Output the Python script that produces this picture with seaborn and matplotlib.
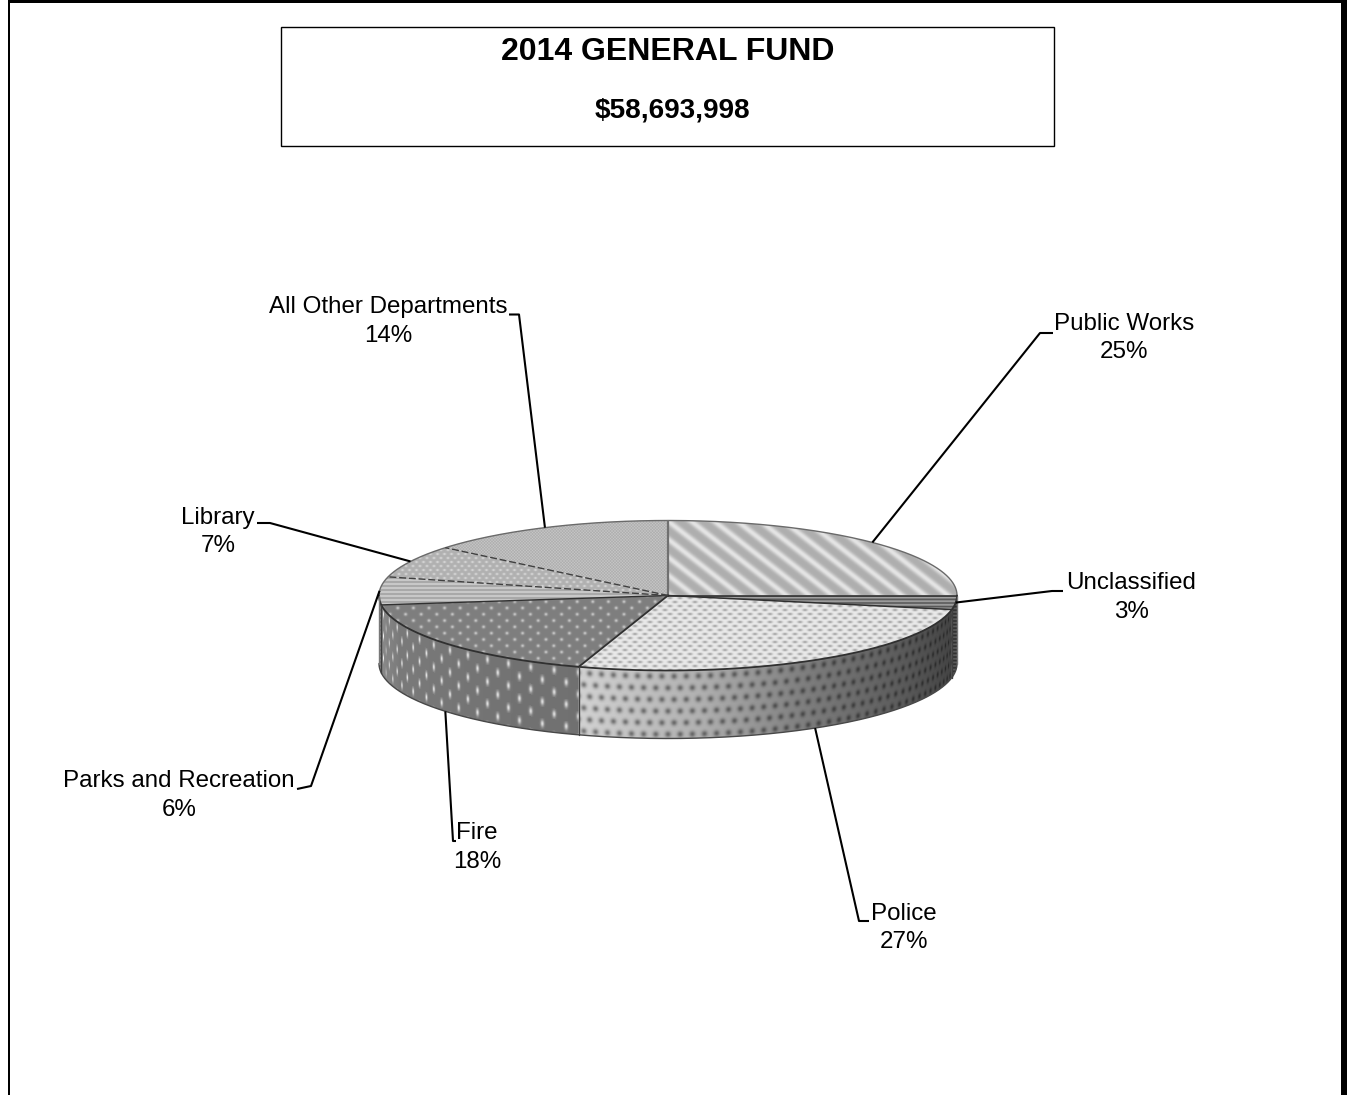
import numpy as np
import matplotlib
matplotlib.use("Agg")
import matplotlib.pyplot as plt
from matplotlib.path import Path
from matplotlib.patches import PathPatch, Rectangle
import seaborn as sns

# Budget shares, clockwise from twelve o'clock
departments = ["Public Works", "Unclassified", "Police", "Fire",
               "Parks and Recreation", "Library", "All Other Departments"]
shares = [25, 3, 27, 18, 6, 7, 14]
title_lines = ["2014 GENERAL FUND", "$58,693,998"]

sns.set_theme(style="white")
plt.rcParams["font.family"] = ["Liberation Sans", "DejaVu Sans"]

W, H = 1348, 1095
fig = plt.figure(figsize=(W / 100, H / 100), dpi=100)
ax = fig.add_axes([0, 0, 1, 1])
ax.set_axis_off()

# Pie geometry in canvas units
CX, CY, RX, RY, DEPTH = 668.0, 595.5, 289.0, 75.0, 68.0

X, Y = np.meshgrid(np.arange(W) + 0.5, np.arange(H) + 0.5)


def rim(theta_deg, drop=0.0):
    t = np.radians(theta_deg)
    return CX + RX * np.sin(t), CY - RY * np.cos(t) + drop


def spots(u, v, px, py, sx, sy):
    row = np.floor(v / py)
    shifted = u + (row % 2) * px / 2
    du = ((shifted / px) % 1 - 0.5) * px
    dv = ((v / py) % 1 - 0.5) * py
    return np.exp(-(du ** 2 / sx ** 2 + dv ** 2 / sy ** 2))


# Coordinates wrapped around the cylinder wall
U = RX * np.arcsin(np.clip((X - CX) / RX, -1, 1))
V = Y - (CY + RY * np.sqrt(np.clip(1 - ((X - CX) / RX) ** 2, 0, 1)))

police_wall = np.interp(X, [584, 700, 800, 900, 957], [208, 176, 128, 92, 66])
fire_wall = np.interp(X, [378, 400, 470, 584], [140, 122, 116, 112])

top_faces = [
    174 + 54 * np.clip(0.5 + 0.5 * np.cos(2 * np.pi * (Y - 0.78 * X) / 18.0), 0, 1) ** 2,
    90 + 70 * (0.5 + 0.5 * np.cos(2 * np.pi * Y / 3.6)),
    234 - 70 * spots(X, Y, 10.0, 4.0, 2.6, 1.3),
    126 + 70 * spots(X, Y, 15.6, 6.3, 1.7, 1.6),
    162 + 44 * (0.5 + 0.5 * np.cos(2 * np.pi * Y / 4.0)),
    176 + 40 * spots(X, Y, 7.0, 4.0, 1.5, 1.1),
    184 + 14 * np.cos(2 * np.pi * X / 3.0) * np.cos(2 * np.pi * Y / 3.0),
]
wall_faces = [
    48 + 44 * (0.5 + 0.5 * np.cos(2 * np.pi * Y / 3.6)),
    police_wall * (1 - 0.42 * spots(U, V, 12.2, 11.6, 3.0, 3.0)),
    fire_wall + 105 * spots(U, V, 26.0, 11.0, 2.0, 3.6),
    120 + 30 * (0.5 + 0.5 * np.cos(2 * np.pi * Y / 4.0)),
]

edges = np.cumsum([0] + shares) * 3.6
starts, stops = edges[:-1], edges[1:]


def textured(points, tex):
    patch = PathPatch(Path(np.column_stack(points)), fc="none", ec="none")
    ax.add_patch(patch)
    im = ax.imshow(tex, cmap="gray", vmin=0, vmax=255, extent=(0, W, H, 0),
                   aspect="auto", interpolation="bilinear", zorder=1)
    im.set_clip_path(patch)


# Outer wall, only the front half of the disc shows
wall_index = 0
for a, b in zip(starts, stops):
    lo, hi = max(a, 90), min(b, 270)
    if lo >= hi:
        continue
    arc = np.linspace(lo, hi, 200)
    x_top, y_top = rim(arc)
    x_bot, y_bot = rim(arc[::-1], DEPTH)
    textured((np.r_[x_top, x_bot], np.r_[y_top, y_bot]), wall_faces[wall_index])
    wall_index += 1

# Top surface wedges
for a, b, tex in zip(starts, stops, top_faces):
    arc = np.linspace(a, b, 240)
    x_arc, y_arc = rim(arc)
    textured((np.r_[CX, x_arc, CX], np.r_[CY, y_arc, CY]), tex)

# Outlines of the disc
arc = np.linspace(-90, 90, 361)
ax.plot(*rim(arc), color="#6a6a6a", lw=1.0, zorder=3)
arc = np.linspace(90, 270, 361)
ax.plot(*rim(arc), color="#303030", lw=1.3, zorder=3)
ax.plot(*rim(arc, DEPTH), color="#484848", lw=1.0, zorder=3)
for side in (90, 270):
    x0, y0 = rim(side)
    ax.plot([x0, x0], [y0, y0 + DEPTH], color="#787878", lw=1.0, zorder=3,
            solid_capstyle="round")

edge_colors = ["#707070", "#303030", "#303030", "#303030", "#303030", "#404040", "#404040"]
edge_styles = ["-", "-", "-", "-", "-", (0, (5, 2)), (0, (5, 2))]
edge_widths = [1.6, 1.1, 1.1, 1.3, 1.0, 1.0, 1.0]
for angle, c, ls, lw in zip(starts, edge_colors, edge_styles, edge_widths):
    x0, y0 = rim(angle)
    ax.plot([CX, x0], [CY, y0], color=c, ls=ls, lw=lw, zorder=3)
    if 90 < angle < 270:
        ax.plot([x0, x0], [y0, y0 + DEPTH], color="#404040", lw=1.0, zorder=3)

# Leader lines and their labels
elbows = [[(1040, 333), (1053, 333)], [(1052, 591), (1063, 591)],
          [(859, 921), (869, 921)], [(453, 841), (456, 841)],
          [(311, 786), (297, 789)], [(270, 523), (257, 523)],
          [(519, 314.5), (509, 314.5)]]
label_centres = [(1124, 322.5), (1131, 581.5), (904, 912.5), (477, 831.5),
                 (179, 779.5), (218, 516.5), (388, 306)]
label_size = 17.4
mids = (starts + stops) / 2
for name, share, mid, elbow, (tx, ty) in zip(departments, shares, mids, elbows, label_centres):
    drop = DEPTH if 110 < mid < 260 else 0
    x0, y0 = rim(mid, drop)
    xs = [x0] + [p[0] for p in elbow]
    ys = [y0] + [p[1] for p in elbow]
    ax.plot(xs, ys, color="black", lw=1.5, zorder=4, solid_capstyle="butt")
    ax.text(tx, ty + 7.5, name, ha="center", va="baseline", fontsize=label_size, color="black")
    ax.text(tx, ty + 36, f"{share}%", ha="center", va="baseline", fontsize=label_size, color="black")

# Title box
ax.add_patch(Rectangle((281, 27), 773, 119, fc="white", ec="black", lw=1.0, zorder=2))
ax.text(667.5, 60, title_lines[0], ha="center", va="baseline", fontsize=23.0,
        fontweight="bold", color="black", zorder=5)
ax.text(672.5, 117, title_lines[1], ha="center", va="baseline", fontsize=20.2,
        fontweight="bold", color="black", zorder=5)

# Page border
ax.add_patch(Rectangle((8, 0), 1339, 3, fc="black", ec="none", zorder=6))
ax.add_patch(Rectangle((8, 0), 2, H, fc="black", ec="none", zorder=6))
ax.add_patch(Rectangle((1341, 0), 6, H, fc="black", ec="none", zorder=6))

ax.set_xlim(0, W)
ax.set_ylim(H, 0)
fig.savefig("out.png", dpi=100, facecolor="white")
